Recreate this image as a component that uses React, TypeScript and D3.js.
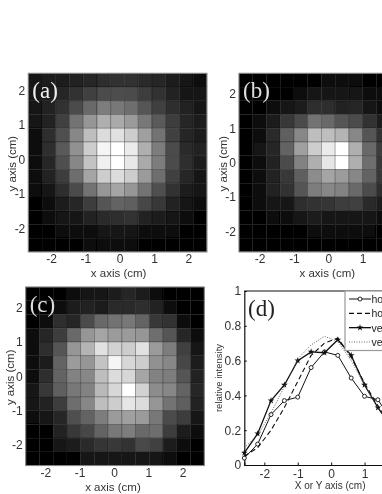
import React, { useEffect, useRef } from "react";
import * as d3 from "d3";

// gray level of every cell, top row first
const gridA = [
  [24, 28, 30, 32, 38, 45, 48, 50, 42, 38, 28, 18, 10],
  [25, 28, 38, 50, 65, 75, 78, 75, 60, 48, 35, 25, 20],
  [22, 35, 50, 75, 105, 125, 120, 110, 85, 65, 45, 32, 25],
  [18, 35, 65, 115, 150, 175, 170, 155, 120, 90, 60, 40, 30],
  [15, 45, 80, 135, 190, 220, 225, 205, 160, 115, 65, 40, 30],
  [15, 45, 90, 145, 205, 245, 255, 235, 175, 125, 75, 42, 32],
  [12, 40, 80, 135, 195, 240, 255, 232, 170, 125, 75, 45, 28],
  [10, 32, 60, 110, 165, 205, 220, 205, 155, 110, 65, 40, 25],
  [8, 22, 45, 75, 115, 150, 165, 150, 115, 80, 50, 30, 20],
  [5, 15, 28, 40, 60, 85, 100, 95, 70, 55, 32, 20, 10],
  [4, 8, 18, 25, 35, 42, 45, 48, 35, 28, 18, 10, 5],
  [2, 5, 8, 12, 15, 20, 22, 20, 15, 10, 8, 4, 2],
  [0, 2, 4, 6, 8, 8, 8, 8, 6, 4, 2, 0, 0],
];
const gridB = [
  [0, 0, 0, 0, 2, 5, 12, 12, 8, 5, 0, 0, 0],
  [0, 0, 0, 5, 10, 25, 25, 18, 18, 15, 8, 2, 0],
  [0, 0, 15, 22, 28, 45, 45, 32, 38, 22, 12, 4, 0],
  [0, 10, 28, 55, 75, 115, 105, 85, 75, 50, 30, 12, 5],
  [0, 15, 42, 95, 135, 190, 190, 180, 135, 85, 50, 20, 8],
  [0, 18, 40, 100, 160, 205, 235, 255, 175, 105, 60, 25, 10],
  [0, 15, 35, 75, 130, 175, 230, 255, 175, 110, 55, 25, 10],
  [2, 15, 32, 55, 95, 140, 165, 155, 135, 100, 55, 25, 8],
  [2, 12, 32, 50, 85, 125, 135, 130, 105, 75, 45, 20, 5],
  [0, 8, 22, 25, 45, 50, 52, 62, 65, 42, 30, 10, 2],
  [0, 0, 8, 15, 25, 28, 25, 20, 22, 20, 15, 5, 0],
  [0, 0, 0, 2, 5, 8, 12, 15, 12, 8, 2, 0, 0],
  [0, 0, 0, 0, 0, 2, 4, 2, 0, 0, 0, 0, 0],
];
const gridC = [
  [0, 0, 2, 12, 18, 20, 28, 38, 28, 8, 2, 0, 0],
  [0, 0, 15, 28, 32, 28, 42, 42, 45, 35, 15, 5, 0],
  [0, 15, 45, 38, 75, 105, 115, 120, 100, 55, 50, 15, 0],
  [10, 40, 60, 105, 150, 165, 155, 155, 150, 110, 85, 40, 12],
  [15, 45, 85, 150, 180, 225, 210, 205, 225, 155, 125, 65, 22],
  [12, 30, 100, 155, 150, 195, 245, 215, 205, 145, 135, 70, 28],
  [15, 45, 100, 130, 135, 190, 220, 215, 165, 130, 125, 85, 35],
  [22, 55, 95, 120, 130, 185, 215, 255, 210, 140, 135, 100, 40],
  [18, 35, 60, 110, 135, 190, 205, 230, 220, 150, 115, 95, 32],
  [8, 20, 40, 80, 100, 125, 155, 160, 155, 120, 75, 60, 22],
  [2, 5, 35, 55, 70, 100, 120, 125, 105, 110, 60, 28, 15],
  [0, 2, 18, 30, 42, 52, 55, 50, 72, 65, 30, 15, 5],
  [0, 0, 2, 5, 22, 25, 25, 22, 25, 20, 12, 5, 0],
];

// profile curves of panel (d)
const positions = [-2.6, -2.2, -1.8, -1.4, -1, -0.6, -0.2, 0.2, 0.6, 1, 1.4, 1.8, 2.2, 2.6];
const horizontal1 = [0.04, 0.12, 0.29, 0.37, 0.39, 0.56, 0.65, 0.63, 0.5, 0.395, 0.375, 0.26, 0.15, 0.08];
const horizontal2 = [0.05, 0.1, 0.2, 0.33, 0.48, 0.63, 0.7, 0.73, 0.62, 0.47, 0.34, 0.23, 0.13, 0.06];
const vertical1 = [0.07, 0.18, 0.37, 0.46, 0.6, 0.65, 0.645, 0.72, 0.63, 0.46, 0.33, 0.22, 0.14, 0.08];
const vertical2 = [0.1, 0.17, 0.3, 0.45, 0.61, 0.69, 0.74, 0.71, 0.6, 0.46, 0.33, 0.22, 0.12, 0.06];
// the legend is cut by the picture's right edge, only this much of it can be read
const legendLabels = ["ho", "ho", "ve", "ve"];

const imageTicks = [-2, -1, 0, 1, 2];
const profileXTicks = [-2, -1, 0, 1];
const profileYTicks = [0, 0.2, 0.4, 0.6, 0.8, 1];

const sans = "'Liberation Sans', Arial, sans-serif";
const serif = "'Liberation Serif', 'Times New Roman', serif";
const textColor = "#333";

const App = () => {
  const ref = useRef<SVGSVGElement>(null);

  useEffect(() => {
    const root = d3.select(ref.current);
    root.selectAll("*").remove();
    root
      .append("filter")
      .attr("id", "soft")
      .attr("x", 0)
      .attr("y", 0)
      .attr("width", 1)
      .attr("height", 1)
      .append("feGaussianBlur")
      .attr("stdDeviation", 0.45);
    const svg = root.append("g").attr("filter", "url(#soft)");
    svg.append("rect").attr("width", 382).attr("height", 494).attr("fill", "#fff");

    const heatmap = (grid, box, dx, dy, label, labelColor) => {
      const [left, top, size] = box;
      const g = svg.append("g");
      const idx = d3.range(13);
      const col = d3.scaleBand().domain(idx).range([left, left + size]);
      const row = d3.scaleBand().domain(idx).range([top, top + size]);
      const gray = d3.scaleLinear().domain([0, 255]).range(["#000", "#fff"]);

      grid.forEach((values, r) => {
        g.selectAll(null)
          .data(values)
          .enter()
          .append("rect")
          .attr("x", (_, c) => col(c))
          .attr("y", row(r))
          .attr("width", col.bandwidth())
          .attr("height", row.bandwidth())
          .attr("fill", (d) => gray(d))
          .attr("stroke", "#000")
          .attr("stroke-opacity", 0.3)
          .attr("stroke-width", 0.8);
      });
      g.append("rect")
        .attr("x", left)
        .attr("y", top)
        .attr("width", size)
        .attr("height", size)
        .attr("fill", "none")
        .attr("stroke", "#8a8a8a")
        .attr("stroke-width", 1);

      const x = d3.scaleLinear().domain(dx).range([left, left + size]);
      const y = d3.scaleLinear().domain(dy).range([top + size, top]);
      // ticks past the right edge of the picture are not drawn
      const xTicks = imageTicks.filter((t) => x(t) < 375);
      const xAxis = g
        .append("g")
        .attr("transform", `translate(0,${top + size})`)
        .call(d3.axisBottom(x).tickValues(xTicks).tickSize(0).tickPadding(3));
      const yAxis = g
        .append("g")
        .attr("transform", `translate(${left},0)`)
        .call(d3.axisLeft(y).tickValues(imageTicks).tickSize(0).tickPadding(3));
      [xAxis, yAxis].forEach((a) => {
        a.select(".domain").remove();
        a.selectAll("text")
          .text((d) => String(d))
          .style("font-family", sans)
          .style("font-size", "12px")
          .attr("fill", textColor);
      });

      g.append("text")
        .attr("x", x(0) - 1)
        .attr("y", top + size + 25)
        .attr("text-anchor", "middle")
        .style("font-family", sans)
        .style("font-size", "11.5px")
        .attr("fill", textColor)
        .text("x axis (cm)");
      g.append("text")
        .attr("transform", `translate(${left - 12},${top + size / 2 + 1}) rotate(-90)`)
        .attr("text-anchor", "middle")
        .style("font-family", sans)
        .style("font-size", "11.5px")
        .attr("fill", textColor)
        .text("y axis (cm)");
      g.append("text")
        .attr("x", left + 4)
        .attr("y", top + 25)
        .style("font-family", serif)
        .style("font-size", "23px")
        .attr("fill", labelColor)
        .text(label);
    };

    heatmap(gridA, [28.3, 73.3, 178.6], [-2.66, 2.54], [-2.68, 2.5], "(a)", "#eee");
    heatmap(gridB, [239, 73.3, 178.6], [-2.6, 2.6], [-2.6, 2.6], "(b)", "#ddd");
    heatmap(gridC, [25.7, 287, 178.6], [-2.57, 2.63], [-2.6, 2.6], "(c)", "#ddd");

    // panel (d)
    const d = svg.append("g");
    const x = d3.scaleLinear().domain([-2.6, 2.6]).range([244.3, 418]);
    const y = d3.scaleLinear().domain([0, 1]).range([465, 291]);

    const xAxis = d
      .append("g")
      .attr("transform", `translate(0,${y(0)})`)
      .call(d3.axisBottom(x).tickValues(profileXTicks).tickSize(-2.5).tickPadding(4));
    const yAxis = d
      .append("g")
      .attr("transform", `translate(${x(-2.6)},0)`)
      .call(d3.axisLeft(y).tickValues(profileYTicks).tickSize(-2.5).tickPadding(3));
    [xAxis, yAxis].forEach((a) => {
      a.select(".domain").attr("stroke", "#111").attr("stroke-width", 1.2);
      a.selectAll("line").attr("stroke", "#111");
      a.selectAll("text")
        .text((v) => String(v))
        .style("font-family", sans)
        .style("font-size", "12px")
        .attr("fill", textColor);
    });
    d.append("line")
      .attr("x1", x(-2.6))
      .attr("x2", 382)
      .attr("y1", y(1))
      .attr("y2", y(1))
      .attr("stroke", "#111")
      .attr("stroke-width", 1.2);

    const line = d3
      .line()
      .x((_, i) => x(positions[i]))
      .y((v) => y(v));
    const star = d3.symbol().type(d3.symbolStar).size(14);
    const series = [
      { values: horizontal1, dash: null, width: 1, marker: "circle" },
      { values: horizontal2, dash: "5 3", width: 1.1, marker: null },
      { values: vertical1, dash: null, width: 1.3, marker: "star" },
      { values: vertical2, dash: "1 1.5", width: 0.9, marker: null },
    ];
    const drawMarker = (parent, type, px, py) => {
      if (type === "circle") {
        parent
          .append("circle")
          .attr("cx", px)
          .attr("cy", py)
          .attr("r", 2)
          .attr("fill", "#fff")
          .attr("stroke", "#111")
          .attr("stroke-width", 0.9);
      } else if (type === "star") {
        parent.append("path").attr("d", star()).attr("transform", `translate(${px},${py})`).attr("fill", "#111");
      }
    };
    series.forEach((s) => {
      d.append("path")
        .attr("d", line(s.values))
        .attr("fill", "none")
        .attr("stroke", s.dash === "1 1.5" ? "#555" : "#111")
        .attr("stroke-width", s.width)
        .attr("stroke-dasharray", s.dash);
      s.values.forEach((v, i) => drawMarker(d, s.marker, x(positions[i]), y(v)));
    });

    // legend box runs off the right side, same as the picture
    const legendRow = d3.scalePoint().domain(d3.range(legendLabels.length)).range([299, 342]);
    d.append("rect")
      .attr("x", 345)
      .attr("y", y(1))
      .attr("width", 60)
      .attr("height", 59.5)
      .attr("fill", "#fff")
      .attr("stroke", "#999")
      .attr("stroke-width", 1.2);
    legendLabels.forEach((name, i) => {
      const s = series[i];
      const ly = legendRow(i);
      d.append("line")
        .attr("x1", 349)
        .attr("x2", 371)
        .attr("y1", ly)
        .attr("y2", ly)
        .attr("stroke", s.dash === "1 1.5" ? "#555" : "#111")
        .attr("stroke-width", s.width)
        .attr("stroke-dasharray", s.dash);
      drawMarker(d, s.marker, 360, ly);
      d.append("text")
        .attr("x", 371.5)
        .attr("y", ly + 4)
        .style("font-family", sans)
        .style("font-size", "10.5px")
        .attr("fill", "#222")
        .text(name);
    });

    d.append("text")
      .attr("x", 248)
      .attr("y", 316)
      .style("font-family", serif)
      .style("font-size", "23px")
      .attr("fill", "#222")
      .text("(d)");
    d.append("text")
      .attr("x", x(0) - 1)
      .attr("y", 488.5)
      .attr("text-anchor", "middle")
      .style("font-family", sans)
      .style("font-size", "10px")
      .attr("fill", textColor)
      .text("X or Y axis (cm)");
    d.append("text")
      .attr("transform", "translate(222,378) rotate(-90)")
      .attr("text-anchor", "middle")
      .style("font-family", sans)
      .style("font-size", "9.5px")
      .attr("fill", textColor)
      .text("relative intensity");
  }, []);

  return (
    <svg
      ref={ref}
      width={382}
      height={494}
      style={{ position: "absolute", left: 0, top: 0, display: "block" }}
    ></svg>
  );
};

export default App;
